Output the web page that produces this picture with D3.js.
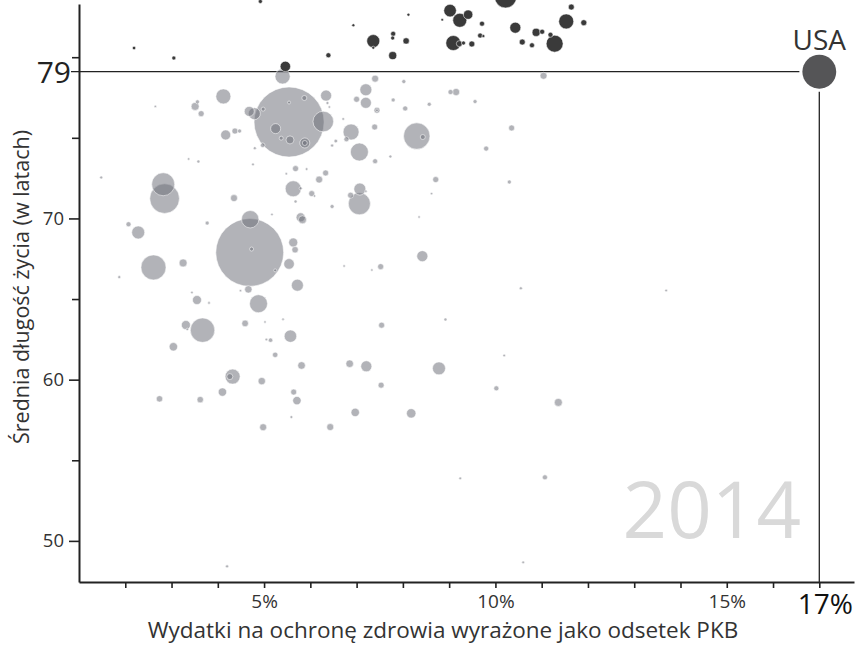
<!DOCTYPE html>
<html><head><meta charset="utf-8">
<script src="https://cdn.jsdelivr.net/npm/d3@7/dist/d3.min.js"></script>
<style>body{margin:0;background:#fff}svg{display:block}text{font-family:"Open Sans",sans-serif}</style>
</head><body><svg id="c" width="856" height="646"></svg>
<script>
// health expenditure (% of GDP)
const healthSpend = [
2.19,3.05,5.46,6.39,6.93,7.36,7.36,7.79,7.78,7.78,
8.07,8.12,8.85,9.02,9.23,9.41,9.71,10.22,9.09,9.22,
9.31,9.49,9.67,9.74,10.43,10.58,10.79,10.88,11.01,11.19,
11.28,11.53,11.64,11.91,4.92,
5.54,4.69,
5.40,4.12,6.34,2.65,3.51,3.56,3.64,4.68,4.79,4.98,
5.54,5.87,6.28,5.25,5.37,5.56,5.88,5.88,4.97,4.80,
4.17,4.37,4.47,6.71,6.88,6.78,6.55,6.47,7.06,7.20,
7.20,7.00,7.40,8.02,7.79,8.05,7.44,7.44,7.39,7.73,
7.40,8.30,8.43,8.57,1.48,3.37,3.58,4.76,5.68,5.92,
6.33,6.19,5.48,5.63,5.79,6.03,6.09,5.68,4.35,2.82,
2.85,7.07,7.20,6.87,7.06,6.47,8.35,4.70,5.17,5.79,
5.83,2.07,2.28,3.77,5.63,5.67,8.42,4.73,2.61,3.25,
1.87,5.54,5.24,5.72,4.66,4.49,3.44,3.55,3.81,4.88,
6.73,7.33,7.52,3.31,3.34,3.67,3.04,4.59,5.02,5.41,
5.05,5.14,5.57,5.24,5.81,6.85,7.21,7.54,7.53,4.32,
4.26,4.95,4.10,5.64,5.71,2.74,3.62,5.59,6.97,8.18,
4.98,6.43,4.20,9.24,11.07,10.60,10.55,13.69,8.92,10.19,
8.78,10.02,11.36,11.04,9.03,9.15,9.56,10.35,9.80,8.71,
10.30,8.62,6.37,6.41];
// average life expectancy (years)
const lifeExp = [
80.57,79.95,79.43,80.12,81.98,81.0,80.59,81.45,81.19,80.10,
81.01,82.64,82.32,82.89,82.29,82.64,82.08,83.74,80.88,80.84,
80.88,80.82,81.34,81.31,81.83,80.94,80.74,81.54,81.58,81.39,
80.84,82.22,83.11,82.14,83.46,
75.98,67.89,
78.81,77.57,77.62,76.95,76.95,77.23,76.50,76.64,76.50,76.78,
77.19,77.47,76.01,75.57,74.98,74.87,74.68,74.68,74.54,74.36,
75.18,75.42,75.42,76.17,75.36,74.91,74.80,74.52,74.12,77.98,
77.17,77.39,78.67,78.49,77.35,76.82,76.71,76.71,75.67,73.84,
73.55,75.11,75.05,77.08,72.54,73.69,73.53,73.35,73.09,73.06,
72.82,72.41,72.77,71.84,71.87,71.54,71.39,71.05,71.26,72.12,
71.23,71.82,71.69,71.44,70.91,70.74,70.09,69.95,70.25,70.07,
69.92,69.64,69.13,69.71,68.51,68.06,67.66,68.10,66.96,67.24,
66.36,67.18,66.78,65.86,65.60,65.52,65.41,64.94,64.76,64.71,
67.05,66.80,67.01,63.39,63.12,63.07,62.04,63.49,63.58,63.75,
62.49,62.45,62.70,61.54,60.88,60.99,60.83,63.38,59.66,60.19,
60.19,59.91,59.23,59.23,58.70,58.81,58.76,57.68,57.97,57.91,
57.05,57.06,48.42,53.88,53.94,48.67,65.67,65.53,63.73,61.50,
60.70,59.46,58.59,78.85,77.84,77.84,77.25,75.61,74.33,72.41,
72.26,71.54,77.16,76.91];
// population (millions)
const population = [
3.2,4.5,30,7,2.5,47,2.5,7,4.5,18,
11.4,2.5,1.9,44,54.6,24.6,7,135,62.6,10,
4.5,10,7,2.5,33.7,10,7,18,7,7,
80,62.6,10,10,4.5,
1364,1280,
64,62.6,33.7,1.6,17.8,4.5,10,27.8,40,4.5,
2.5,7,118,27.8,4.5,17.8,27.8,7,5.9,2.5,
27.8,10,4.5,1.9,71,7,3.6,2.5,90,40,
33.7,10,13.6,4.5,4.5,7,10,1.9,10,2.5,
7,194,7,4.5,2.5,1.6,2.5,1.9,10,1.9,
10,13.6,1.6,71,2.5,10,1.6,2.5,13.6,147,
244,40,1.6,10,135,4.5,1.6,84,1.6,22.5,
17.8,7,47,4.5,22.5,11.4,33.7,4.5,174,17.8,
2.5,31,2.5,40,15.2,1.6,1.6,22.5,1.9,90,
1.6,1.6,10,22.5,1.6,166,19.6,12,1.6,1.6,
1.9,5.4,43,8.1,16,16,33.7,10,10,62.6,
10,15.2,19.6,10,19.6,11.4,11.4,2.2,19.6,24.6,
13.6,13.6,2.5,1.9,7,1.9,2.5,1.9,2.5,1.9,
47,7,17.8,13.6,7,14.4,4.5,10,7,10,
4.5,1.6,2.5,1.6];

const usa = {name: "USA", spend: 17.0, life: 79.1, pop: 319};
const xTicks = [2,3,4,5,6,7,8,9,10,11,12,13,14,15,16,17];
const xLabels = [5, 10, 15];
const yTicks = [50,55,60,65,70,75,80];
const yLabels = [50, 60, 70];
const yearLabel = "2014";
const xTitle = "Wydatki na ochronę zdrowia wyrażone jako odsetek PKB";
const yTitle = "Średnia długość życia (w latach)";

const svg = d3.select("#c");
const x = d3.scaleLinear().domain([1, 17.75]).range([79, 854]);
const y = d3.scaleLinear().domain([47.45, 83.3]).range([582, 4]);
const r = d3.scaleSqrt().domain([0, 1364]).range([0, 35]);

const data = healthSpend.map((s, i) => ({spend: s, life: lifeExp[i], pop: population[i]}))
  .sort((a, b) => b.pop - a.pop);

// year watermark
svg.append("text").attr("x", 801).attr("y", y(50.2))
  .attr("text-anchor", "end").attr("font-size", 78).attr("fill", "#d9d9d9").text(yearLabel);

// axes
const xAxis = svg.append("g").attr("transform", `translate(0,${y(47.45)})`)
  .call(d3.axisBottom(x).tickValues(xTicks).tickSize(6).tickSizeOuter(0)
    .tickFormat(d => xLabels.includes(d) ? d + "%" : ""));
xAxis.select(".domain").attr("stroke", "#222").attr("stroke-width", 2);
xAxis.selectAll(".tick line").attr("stroke", "#222").attr("stroke-width", 1.6);
xAxis.selectAll(".tick text").attr("font-size", 19).attr("fill", "#333").attr("dy", "0.9em")
  .attr("font-family", "Open Sans");

const yAxis = svg.append("g").attr("transform", `translate(${x(1)},0)`)
  .call(d3.axisLeft(y).tickValues(yTicks).tickSize(8).tickSizeOuter(0)
    .tickFormat(d => yLabels.includes(d) ? d : ""));
yAxis.select(".domain").attr("stroke", "#222").attr("stroke-width", 2);
yAxis.selectAll(".tick line").attr("stroke", "#222").attr("stroke-width", 1.6)
  .attr("x2", d => yLabels.includes(d) ? -10 : -7);
yAxis.selectAll(".tick text").attr("font-size", 18.5).attr("fill", "#333").attr("x", -15)
  .attr("font-family", "Open Sans");

// titles
svg.append("text").attr("x", 443).attr("y", 638).attr("text-anchor", "middle")
  .attr("font-size", 22.5).attr("fill", "#333").text(xTitle);
svg.append("text").attr("transform", `translate(29,${287}) rotate(-90)`).attr("text-anchor", "middle")
  .attr("font-size", 21.5).attr("fill", "#333").text(yTitle);

// USA reference lines
const ux = x(usa.spend), uy = y(usa.life), ur = r(usa.pop);
svg.append("line").attr("x1", x(1) - 8).attr("x2", ux - ur - 3).attr("y1", uy).attr("y2", uy)
  .attr("stroke", "#222").attr("stroke-width", 1.3);
svg.append("line").attr("x1", ux).attr("x2", ux).attr("y1", uy + ur + 3).attr("y2", y(47.45))
  .attr("stroke", "#222").attr("stroke-width", 1.3);
svg.append("text").attr("x", x(1) - 8).attr("y", uy).attr("dy", "0.36em").attr("text-anchor", "end")
  .attr("font-size", 30).attr("fill", "#222").text(Math.round(usa.life));
svg.append("text").attr("x", ux + 6).attr("y", 614).attr("text-anchor", "middle")
  .attr("font-size", 28).attr("fill", "#111").text(Math.round(usa.spend) + "%");
svg.append("text").attr("x", ux).attr("y", 50).attr("text-anchor", "middle")
  .attr("font-size", 28).attr("fill", "#333").text(usa.name);

// bubbles
svg.append("g").selectAll("circle").data(data).join("circle")
  .attr("cx", d => x(d.spend)).attr("cy", d => y(d.life)).attr("r", d => r(d.pop))
  .attr("fill", d => d.life > usa.life ? "#3a3a3a" : "#6b6d76")
  .attr("fill-opacity", d => d.life > usa.life ? 1 : 0.52)
  .attr("stroke", "#fff").attr("stroke-opacity", 0.6).attr("stroke-width", 0.9);

svg.append("circle").attr("cx", ux).attr("cy", uy).attr("r", ur).attr("fill", "#555557");
</script></body></html>
